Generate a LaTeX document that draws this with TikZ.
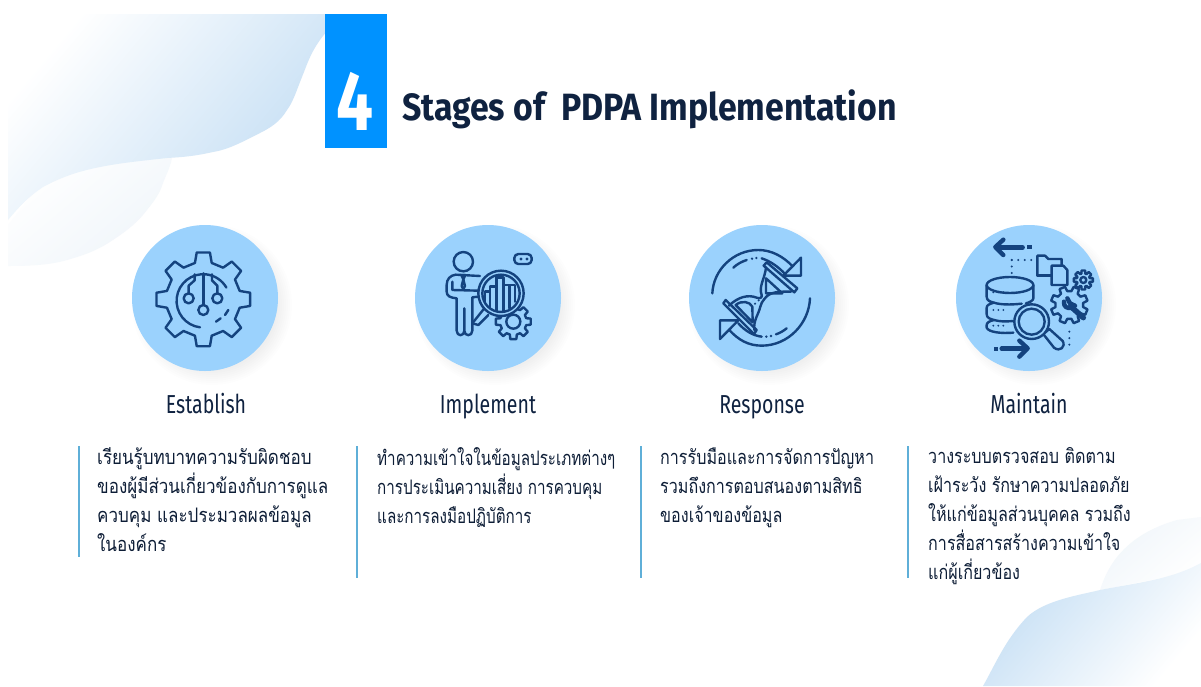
\documentclass[tikz,border=0pt]{standalone}
\usepackage{fontspec}
\newfontfamily\thaiA[Script=Thai,FakeStretch=0.85]{Loma}
\newfontfamily\thaiB[Script=Thai,FakeStretch=0.76]{Loma}
\newfontfamily\thaiC[Script=Thai,FakeStretch=0.805]{Loma}
\newfontfamily\numfont[FakeStretch=0.78]{Fira Sans}
\newfontfamily\headfont[FakeStretch=0.89]{Fira Sans}
\newfontfamily\labelfont[FakeStretch=0.75]{Fira Sans}
\definecolor{ink}{HTML}{0F2240}
\definecolor{iconblue}{HTML}{14437F}
\definecolor{discblue}{HTML}{9BD2FD}
\definecolor{boxblue}{HTML}{0092FF}
\definecolor{barblue}{HTML}{5FAFD8}
\definecolor{blobblue}{HTML}{C4DEF4}
\definecolor{blobpale}{HTML}{EFF5FA}
\tikzset{
  icon/.style={draw=iconblue,line width=2.4pt,line cap=round,line join=round},
  iconthick/.style={icon,line width=4.4pt},
  dotline/.style={icon,line width=2.2pt,dash pattern=on 0pt off 6.5pt},
  disc/.style={circle,fill=discblue,minimum size=146pt,inner sep=0pt},
  stagelabel/.style={font=\labelfont\fontsize{26}{30}\selectfont,text=ink,anchor=base,inner sep=0pt},
  body/.style={text=ink!85!black,anchor=north west,align=left,inner sep=0pt},
  rulebar/.style={draw=barblue,line width=1.4pt},
  iconbox/.style={shift={(#1)},x=0.3333pt,y=-0.3333pt}
}
\newcommand{\softshadow}[2]{%
  \foreach \r in {66,68,...,80}{\fill[black,opacity=0.009] (#1+7,#2+7) circle[radius=\r];}}
% cx cy rin rout n halfOut halfIn rot
\newcommand{\icongear}[8]{%
  \begin{scope}[shift={(#1,#2)}]
  \draw[icon] ({#8+#7}:#3) \foreach \i [evaluate=\i as \a using \i*360/#5+#8] in {1,...,#5}{
     -- ({\a-#7}:#3) -- ({\a-#6}:#4) -- ({\a+#6}:#4) -- ({\a+#7}:#3) } -- cycle;
  \end{scope}}
\begin{document}
\begin{tikzpicture}[x=1pt,y=-1pt]
\useasboundingbox (0,0) rectangle (1201,686);
\fill[white] (0,0) rectangle (1201,686);
% background blobs
\shade[top color=white,bottom color=blobpale,shading angle=40]
  (8,225) -- (8,266) .. controls (30,266) and (50,265) .. (67,260)
  .. controls (85,255) and (98,250) .. (113,240)
  .. controls (128,230) and (138,222) .. (147,210)
  .. controls (155,200) and (160,193) .. (163,183)
  .. controls (166,175) and (170,168) .. (172,158) -- (60,160) -- cycle;
\shade[top color=white,bottom color=blobblue,shading angle=50]
  (8,14) -- (328,14) -- (328,30) .. controls (312,48) and (308,62) .. (302,77)
  .. controls (296,92) and (293,102) .. (287,110)
  .. controls (280,122) and (270,128) .. (260,133)
  .. controls (235,146) and (225,150) .. (213,152)
  .. controls (195,156) and (185,157) .. (167,158)
  .. controls (140,161) and (120,163) .. (100,167)
  .. controls (75,172) and (60,178) .. (43,187)
  .. controls (28,197) and (18,208) .. (8,220) -- cycle;
\shade[top color=blobpale,bottom color=white,shading angle=40]
  (1100,590) .. controls (1108,565) and (1125,535) .. (1177,520) -- (1201,517) -- (1201,570) -- cycle;
\shade[top color=blobblue,bottom color=white,shading angle=50]
  (983,686) .. controls (995,665) and (1005,640) .. (1027,617)
  .. controls (1045,600) and (1080,595) .. (1100,590)
  .. controls (1135,583) and (1170,580) .. (1201,563) -- (1201,686) -- cycle;
% title
\node[fill=boxblue,minimum width=62pt,minimum height=134pt,inner sep=0pt,anchor=north west] (numbox) at (325,14) {};
\node[anchor=base,inner sep=0pt,text=white,font=\numfont\bfseries\fontsize{84}{84}\selectfont] (numfour) at (355,130) {4};
\node[anchor=base west,inner sep=0pt,text=ink,font=\headfont\bfseries\fontsize{38}{40}\selectfont] (title) at (402,120) {Stages of\ \ PDPA Implementation};
% discs
\softshadow{205}{298}\softshadow{488}{298}\softshadow{762}{298}\softshadow{1029}{298}
\node[disc] (discA) at (205,298) {};
\node[disc] (discB) at (488,298) {};
\node[disc] (discC) at (762,298) {};
\node[disc] (discD) at (1029,298) {};
% icon 1: gear with circuit
\begin{scope}[iconbox={120,215}]
  \icongear{250}{253}{112}{142}{8}{8}{13}{0}
  \draw[icon] (240,337) arc[start angle=97,end angle=330,radius=80];
  \draw[icon] (288,320) -- (302,310);
  \draw[icon] (315,300) -- (325,285);
  \draw[icon] (250,175) -- (250,270);
  \draw[icon] (250,285) circle[radius=15];
  \draw[icon] (206,235) -- (206,212) -- (224,196) -- (224,178);
  \draw[icon] (206,250) circle[radius=15];
  \draw[icon] (292,235) -- (292,212) -- (276,196) -- (276,178);
  \draw[icon] (292,250) circle[radius=15];
\end{scope}
% icon 2: person with magnifier
\begin{scope}[iconbox={435,240}]
  \draw[icon] (85,65) circle[radius=29];
  \draw[icon] (135,108) -- (62,104) .. controls (45,106) and (35,118) .. (35,135)
     -- (35,155) .. controls (35,168) and (45,173) .. (65,175) -- (65,272)
     .. controls (65,290) and (88,290) .. (88,272) -- (88,205) -- (88,272)
     .. controls (88,290) and (112,290) .. (112,272) -- (112,172) -- (130,170);
  \draw[icon] (52,125) -- (52,150) -- (130,152);
  \draw[icon] (79,105) -- (91,105) -- (85,118) -- cycle;
  \draw[icon] (85,118) -- (80,138) -- (85,148) -- (90,138) -- cycle;
  \draw[icon] (112,250) -- (148,205);
  \draw[icon] (112,250) -- (130,255) -- (160,225);
  \icongear{235}{245}{40}{53}{8}{10}{15}{0}
  \draw[icon] (235,245) circle[radius=21];
  \fill[discblue] (198,160) circle[radius=68];
  \draw[icon] (198,160) circle[radius=68];
  \draw[icon] (198,160) circle[radius=56];
  \draw[icon] (150,190) -- (150,155) -- (165,155) -- (165,205) -- (165,140) -- (184,140)
     -- (184,212) -- (184,112) -- (205,112) -- (205,212) -- (205,135) -- (224,135)
     -- (224,205) -- (224,135) -- (240,135) -- (240,185);
  \draw[icon,rounded corners=4pt] (238,72) -- (238,42) -- (290,42) -- (290,72) -- cycle;
  \fill[iconblue] (258,57) circle[radius=5] (276,57) circle[radius=5];
\end{scope}
% icon 3: hourglass with arrows
\begin{scope}[iconbox={705,235}]
  \draw[icon] (22,175) .. controls (25,105) and (85,45) .. (160,45) .. controls (200,45) and (235,65) .. (262,93);
  \draw[icon] (288,68) -- (288,122) -- (235,122) -- cycle;
  \draw[icon] (170,70) .. controls (195,78) and (220,95) .. (240,117);
  \draw[icon] (85,98) .. controls (95,88) and (110,80) .. (125,75);
  \fill[iconblue] (141,71) circle[radius=4] (154,69) circle[radius=4];
  \draw[icon] (315,190) .. controls (312,265) and (250,332) .. (170,332) .. controls (130,332) and (100,315) .. (72,284);
  \draw[icon] (45,312) -- (45,256) -- (100,256) -- cycle;
  \draw[icon] (170,305) .. controls (145,302) and (120,288) .. (100,265);
  \draw[icon] (245,280) .. controls (235,288) and (225,294) .. (213,298);
  \fill[iconblue] (198,303) circle[radius=4] (184,305) circle[radius=4];
  \fill[discblue] (185,82) -- (277,160) -- (268,172) -- (176,92) -- cycle;
  \draw[icon] (185,82) -- (277,160) -- (268,172) -- (176,92) -- cycle;
  \fill[discblue] (62,195) -- (155,285) -- (147,297) -- (55,205) -- cycle;
  \draw[icon] (62,195) -- (155,285) -- (147,297) -- (55,205) -- cycle;
  \draw[icon] (183,97) .. controls (180,130) and (160,155) .. (170,180) .. controls (172,188) and (165,192) .. (155,188)
     .. controls (130,178) and (100,185) .. (72,212);
  \draw[icon] (258,170) .. controls (225,170) and (195,168) .. (178,192) .. controls (172,200) and (168,205) .. (166,215)
     .. controls (160,240) and (145,255) .. (148,285);
  \draw[icon] (183,130) -- (232,175) -- (183,175) -- cycle;
  \draw[icon] (92,210) .. controls (110,195) and (135,200) .. (142,215) -- (143,262) -- cycle;
  \fill[iconblue] (150,206) circle[radius=3.5] (161,196) circle[radius=3.5];
\end{scope}
% icon 4: database, folder, gears
\begin{scope}[iconbox={980,235}]
  \draw[iconthick] (70,14) -- (46,36) -- (70,60);
  \draw[iconthick] (50,37) -- (128,37);
  \fill[iconblue] (142,30) rectangle (155,43);
  \draw[dotline] (95,75) -- (155,75);
  \draw[dotline] (95,75) -- (95,115);
  \draw[icon] (172,122) -- (172,62) -- (195,62) -- (205,72) -- (245,72) -- (245,90);
  \draw[icon] (172,122) -- (215,122);
  \draw[icon] (215,92) -- (250,92) -- (262,105) -- (262,150) -- (215,150) -- cycle;
  \icongear{310}{135}{20}{29}{8}{11}{17}{0}
  \draw[icon] (310,135) circle[radius=9];
  \icongear{268}{210}{42}{56}{8}{9}{14}{22.5}
  \draw[iconthick,line width=5.5pt] (272,214) -- (310,248);
  \draw[iconthick] (252,200) .. controls (250,215) and (262,222) .. (275,218);
  \draw[iconthick] (262,190) -- (270,205) -- (285,212);
  % database
  \draw[icon] (90,150) ellipse[x radius=70,y radius=24];
  \draw[icon] (20,150) -- (20,185) .. controls (20,197) and (30,200) .. (42,203)
     .. controls (30,206) and (20,210) .. (20,218) -- (20,238) .. controls (20,248) and (30,252) .. (42,255)
     .. controls (30,258) and (20,262) .. (20,270) -- (20,278) .. controls (25,292) and (65,296) .. (100,293);
  \draw[icon] (160,150) -- (160,190) .. controls (160,196) and (150,202) .. (138,205);
  \draw[icon] (42,203) .. controls (60,209) and (90,210) .. (125,206);
  \draw[icon] (42,255) .. controls (60,260) and (75,260) .. (100,258);
  \foreach \yy in {172,225,272}{\fill[iconblue] (40,\yy) circle[radius=3.2] (55,\yy) circle[radius=3.2] (70,\yy) circle[radius=3.2];}
  % magnifier
  \fill[discblue] (155,260) circle[radius=52];
  \draw[icon] (155,260) circle[radius=52];
  \draw[icon] (155,260) circle[radius=39];
  \draw[icon] (196,292) -- (208,282) -- (248,318) .. controls (258,335) and (240,352) .. (222,338) -- (192,300);
  \draw[dotline] (268,290) -- (268,330);
  \draw[iconthick] (118,317) -- (143,340) -- (118,365);
  \draw[iconthick] (65,341) -- (138,341);
  \fill[iconblue] (42,335) rectangle (55,348);
\end{scope}
% stage labels
\node[stagelabel] (labA) at (206,413) {Establish};
\node[stagelabel] (labB) at (488,413) {Implement};
\node[stagelabel] (labC) at (762,413) {Response};
\node[stagelabel] (labD) at (1029,413) {Maintain};
% rules
\coordinate (barAt) at (79,446); \coordinate (barAb) at (79,557);
\coordinate (barBt) at (357,446); \coordinate (barBb) at (357,578);
\coordinate (barCt) at (641,446); \coordinate (barCb) at (641,578);
\coordinate (barDt) at (908,446); \coordinate (barDb) at (908,578);
\draw[rulebar] (barAt) -- (barAb);
\draw[rulebar] (barBt) -- (barBb);
\draw[rulebar] (barCt) -- (barCb);
\draw[rulebar] (barDt) -- (barDb);
% body text
\node[body,font=\thaiA\fontsize{20}{29}\selectfont] (txtA) at (97,447) {เรียนรู้บทบาทความรับผิดชอบ\\ของผู้มีส่วนเกี่ยวข้องกับการดูแล\\ควบคุม และประมวลผลข้อมูล\\ในองค์กร};
\node[body,font=\thaiB\fontsize{20}{29}\selectfont] (txtB) at (377,447) {ทำความเข้าใจในข้อมูลประเภทต่างๆ\\การประเมินความเสี่ยง การควบคุม\\และการลงมือปฏิบัติการ};
\node[body,font=\thaiC\fontsize{20}{29}\selectfont] (txtC) at (660,447) {การรับมือและการจัดการปัญหา\\รวมถึงการตอบสนองตามสิทธิ\\ของเจ้าของข้อมูล};
\node[body,font=\thaiC\fontsize{20}{29}\selectfont] (txtD) at (928,447) {วางระบบตรวจสอบ ติดตาม\\เฝ้าระวัง รักษาความปลอดภัย\\ให้แก่ข้อมูลส่วนบุคคล รวมถึง\\การสื่อสารสร้างความเข้าใจ\\แก่ผู้เกี่ยวข้อง};
\end{tikzpicture}
\end{document}
